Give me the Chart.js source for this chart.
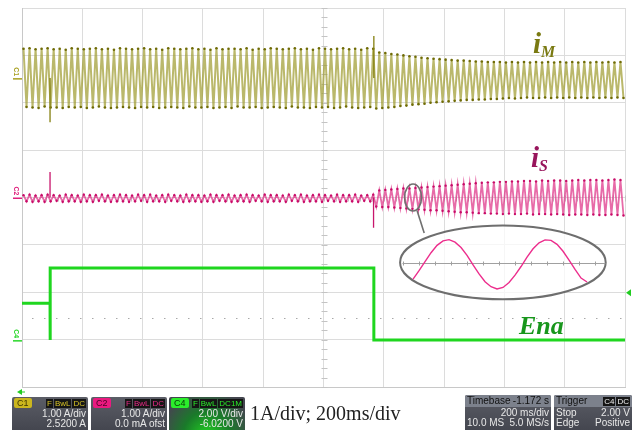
<!DOCTYPE html>
<html>
<head>
<meta charset="utf-8">
<script src="https://cdn.jsdelivr.net/npm/chart.js@4/dist/chart.umd.min.js"></script>
<style>
    body { margin: 0; background: #fff; width: 632px; height: 430px; overflow: hidden; position: relative; font-family: "Liberation Sans", Arial, sans-serif; }
    #scope { position: absolute; left: 0; top: 0; }
    .lbl { position: absolute; font-family: "Liberation Serif", "DejaVu Serif", serif; font-weight: bold; font-style: italic; white-space: nowrap; line-height: 1; }
    .lbl sub { font-size: 0.55em; vertical-align: -0.25em; }
    .box { position: absolute; top: 397px; height: 33px; background: linear-gradient(#5b5d66, #44464f); color: #e8e8e8; font-size: 10px; line-height: 10px; border-radius: 2px 2px 0 0; overflow: hidden; }
    .hd { height: 12px; display: flex; justify-content: space-between; align-items: center; padding: 0 2px; }
    .chip { font-size: 9px; line-height: 10px; padding: 0 3px; border-radius: 2px; }
    .tags b { background: #151515; margin-left: 1px; padding: 0 1px; font-size: 8px; line-height: 9px; font-weight: normal; display: inline-block; }
    .r { text-align: right; padding-right: 2px; height: 10px; }
    .r2 { display: flex; justify-content: space-between; padding: 0 2px; height: 10px; }
    .note { position: absolute; left: 250px; top: 402px; font-family: "Liberation Serif", serif; font-size: 20px; color: #222; white-space: nowrap; }
</style>
</head>
<body>
<canvas id="scope" width="632" height="430"></canvas>

<div class="lbl" style="left:533px;top:29px;font-size:29px;color:#7a7a12">i<sub>M</sub></div>
<div class="lbl" style="left:531px;top:143px;font-size:29px;color:#98155c">i<sub>S</sub></div>
<div class="lbl" style="left:519px;top:313px;font-size:26px;color:#18961c">Ena</div>

<div class="box" style="left:12px;width:76px">
    <div class="hd"><span class="chip" style="background:#cbb61e;color:#3d3600">C1</span><span class="tags"><b style="color:#d6c227">F</b><b style="color:#d6c227">BwL</b><b style="color:#d6c227">DC</b></span></div>
    <div class="r">1.00 A/div</div>
    <div class="r">2.5200 A</div>
</div>
<div class="box" style="left:91px;width:76px">
    <div class="hd"><span class="chip" style="background:#ea1a80;color:#4a0024">C2</span><span class="tags"><b style="color:#ea2a88">F</b><b style="color:#ea2a88">BwL</b><b style="color:#ea2a88">DC</b></span></div>
    <div class="r">1.00 A/div</div>
    <div class="r">0.0 mA ofst</div>
</div>
<div class="box" style="left:169px;width:76px;background:radial-gradient(ellipse at 50% 120%, #22d422 0%, #1a7a2a 45%, #44464f 85%)">
    <div class="hd"><span class="chip" style="background:#2bee2b;color:#063806">C4</span><span class="tags"><b style="color:#2bee2b">F</b><b style="color:#2bee2b">BwL</b><b style="color:#2bee2b">DC1M</b></span></div>
    <div class="r">2.00 V/div</div>
    <div class="r">-6.0200 V</div>
</div>

<div class="note">1A/div; 200ms/div</div>

<div class="box" style="left:465px;width:86px;top:395px;height:35px">
    <div class="r2" style="background:#7c818c;color:#111;height:12px;line-height:12px"><span>Timebase</span><span>-1.172 s</span></div>
    <div class="r" style="line-height:11px;height:11px">200 ms/div</div>
    <div class="r2"><span>10.0 MS</span><span>5.0 MS/s</span></div>
</div>
<div class="box" style="left:554px;width:78px;top:395px;height:35px">
    <div class="r2" style="background:#7c818c;color:#111;height:12px;line-height:12px"><span>Trigger</span><span class="tags"><b style="color:#eee">C4</b><b style="color:#eee">DC</b></span></div>
    <div class="r2" style="line-height:11px;height:11px"><span>Stop</span><span>2.00 V</span></div>
    <div class="r2"><span>Edge</span><span>Positive</span></div>
</div>

<script>
// channel settings (from the scope panel)
const c1Offset = 2.52        // A, 1 A/div
const c2Offset = 0.0         // A, 1 A/div
const c4VoltsPerDiv = 2.0
const c4Offset = -6.02       // V
const halfPeriodMs = 10      // 50 Hz, one sample per half cycle
const triggerVolts = 2.0

// i_M peaks, one per half cycle (A)
const iM = [
    0.62, -0.61, 0.63, -0.62, 0.61, -0.63, 0.62, -0.60, 0.63, -0.62, 0.61, -0.62, 0.62, -0.63, 0.60, -0.61, 0.63, -0.62, 0.62, -0.61,
    0.61, -0.63, 0.62, -0.62, 0.63, -0.60, 0.61, -0.62, 0.62, -0.63, 0.60, -0.62, 0.63, -0.61, 0.62, -0.62, 0.61, -0.63, 0.62, -0.61,
    0.63, -0.62, 0.61, -0.61, 0.62, -0.63, 0.60, -0.62, 0.63, -0.61, 0.62, -0.62, 0.61, -0.63, 0.62, -0.60, 0.63, -0.62, 0.61, -0.62,
    0.62, -0.61, 0.60, -0.63, 0.63, -0.62, 0.61, -0.61, 0.62, -0.63, 0.62, -0.60, 0.61, -0.62, 0.63, -0.62, 0.60, -0.61, 0.62, -0.63,
    0.61, -0.62, 0.63, -0.61, 0.62, -0.62, 0.61, -0.63, 0.62, -0.60, 0.63, -0.62, 0.61, -0.62, 0.62, -0.63, 0.60, -0.61, 0.63, -0.62,
    0.62, -0.61, 0.61, -0.63, 0.62, -0.62, 0.63, -0.60, 0.61, -0.62, 0.62, -0.63, 0.60, -0.62, 0.63, -0.61, 0.62,
    -0.64, 0.54, -0.63, 0.53, -0.62, 0.51, -0.61, 0.50, -0.59, 0.48, -0.58, 0.46, -0.56, 0.45, -0.55, 0.43, -0.54, 0.42, -0.52, 0.41,
    -0.51, 0.40, -0.50, 0.39, -0.49, 0.38, -0.48, 0.37, -0.47, 0.37, -0.46, 0.36, -0.46, 0.35, -0.45, 0.35, -0.45, 0.34, -0.44, 0.34,
    -0.44, 0.34, -0.43, 0.33, -0.42, 0.34, -0.43, 0.33, -0.42, 0.34, -0.41, 0.33, -0.42, 0.34, -0.42, 0.33, -0.41, 0.34, -0.42, 0.33,
    -0.41, 0.34, -0.42, 0.33, -0.41, 0.34, -0.42, 0.33, -0.41, 0.34, -0.42, 0.33, -0.41, 0.34, -0.42, 0.33, -0.41, 0.34, -0.42, 0.33,
    -0.41, 0.34, -0.42
]

// i_S peaks, one per half cycle (A)
const iS = [
    0.05, -0.08, 0.06, -0.09, 0.04, -0.08, 0.05, -0.09, 0.06, -0.08, 0.05, -0.07, 0.04, -0.09, 0.06, -0.08, 0.05, -0.08, 0.04, -0.09,
    0.06, -0.08, 0.05, -0.09, 0.05, -0.07, 0.06, -0.08, 0.04, -0.09, 0.05, -0.08, 0.06, -0.08, 0.05, -0.09, 0.04, -0.08, 0.06, -0.07,
    0.05, -0.09, 0.06, -0.08, 0.04, -0.08, 0.05, -0.09, 0.06, -0.07, 0.05, -0.08, 0.04, -0.09, 0.06, -0.08, 0.05, -0.08, 0.05, -0.09,
    0.04, -0.08, 0.06, -0.09, 0.05, -0.07, 0.05, -0.08, 0.06, -0.09, 0.04, -0.08, 0.05, -0.08, 0.06, -0.09, 0.05, -0.07, 0.04, -0.08,
    0.06, -0.09, 0.05, -0.08, 0.05, -0.08, 0.04, -0.09, 0.06, -0.07, 0.05, -0.08, 0.06, -0.09, 0.04, -0.08, 0.05, -0.08, 0.06, -0.09,
    0.05, -0.07, 0.04, -0.08, 0.06, -0.09, 0.05, -0.08, 0.05, -0.08, 0.06, -0.09, 0.04, -0.07, 0.05, -0.08, 0.06,
    -0.19, 0.15, -0.20, 0.16, -0.20, 0.17, -0.21, 0.18, -0.22, 0.19, -0.23, 0.19, -0.24, 0.20, -0.25, 0.21, -0.26, 0.22, -0.27, 0.23,
    -0.27, 0.24, -0.28, 0.25, -0.29, 0.26, -0.30, 0.27, -0.31, 0.28, -0.31, 0.29, -0.32, 0.30, -0.33, 0.31, -0.33, 0.32, -0.34, 0.32,
    -0.34, 0.33, -0.35, 0.33, -0.34, 0.34, -0.35, 0.34, -0.35, 0.35, -0.34, 0.35, -0.36, 0.34, -0.35, 0.36, -0.35, 0.35, -0.36, 0.36,
    -0.35, 0.36, -0.36, 0.35, -0.37, 0.36, -0.36, 0.37, -0.36, 0.36, -0.37, 0.37, -0.36, 0.37, -0.37, 0.36, -0.37, 0.37, -0.36, 0.38,
    -0.37, 0.37, -0.38
]

// glitches (ms, A)
const iMSpikeT = [93, 1167]
const iMSpikeV = [-0.93, 0.89]
const iSSpikeT = [93, 1166]
const iSSpikeV = [0.54, -0.64]

// Ena logic signal (ms, V)
const enaT = [0, 93, 93, 94, 1167, 1167, 2000]
const enaV = [1.56, 1.56, 0, 3.04, 3.04, 0, 0]

// zoomed i_S in the inset (normalised)
const insetV = [
    -0.60, -0.26, 0.11, 0.47, 0.77, 0.95, 1.00, 0.90, 0.68, 0.36,
    -0.02, -0.39, -0.71, -0.91, -1.00, -0.94, -0.74, -0.44, -0.09, 0.29,
    0.63, 0.87, 0.99, 0.97, 0.81, 0.53, 0.17, -0.21, -0.56, -0.72
]
const insetStartMs = 1297
const insetStepMs = 19.9
const insetCentre = -1.41    // div
const insetGain = 0.52       // div per unit

const c4Div = v => (v + c4Offset) / c4VoltsPerDiv
const traceTime = k => halfPeriodMs / 2 + k * halfPeriodMs

const spikes = (ts, vs, off) => ts.flatMap((t, i) => [{ x: t, y: off }, { x: t, y: off + vs[i] }, { x: t, y: null }])

const scopeDecor = {
    id: 'scopeDecor',
    beforeDatasetsDraw(chart) {
        const { ctx, chartArea: a, scales: { x, y } } = chart
        ctx.save()

        // minor ticks on the centre cross
        ctx.strokeStyle = '#c4c4c4'
        ctx.lineWidth = 1
        const cx = Math.round(x.getPixelForValue(1000)) + 0.5
        const cy = Math.round(y.getPixelForValue(0)) + 0.5
        ctx.beginPath()
        for (let v = -4; v <= 4.001; v += 0.2) {
            const py = Math.round(y.getPixelForValue(v)) + 0.5
            ctx.moveTo(cx - 3, py); ctx.lineTo(cx + 3, py)
        }
        for (let t = 0; t <= 2000; t += 40) {
            const px = Math.round(x.getPixelForValue(t)) + 0.5
            ctx.moveTo(px, cy - 3); ctx.lineTo(px, cy + 3)
        }
        ctx.stroke()

        // dotted level line
        ctx.strokeStyle = '#a8a8a8'
        ctx.setLineDash([1.5, 10.5])
        const dy = Math.round(y.getPixelForValue(-2.54)) + 0.5
        ctx.beginPath(); ctx.moveTo(a.left + 10, dy); ctx.lineTo(a.right, dy); ctx.stroke()
        ctx.setLineDash([])

        // inset ellipse
        const ex = x.getPixelForValue(1595), ey = y.getPixelForValue(-1.37)
        const rx = x.getPixelForValue(1595 + 341) - ex, ry = ey - y.getPixelForValue(-1.37 + 0.78)
        ctx.beginPath()
        ctx.ellipse(ex, ey, rx, ry, 0, 0, Math.PI * 2)
        ctx.fillStyle = 'rgba(255,255,255,0.75)'
        ctx.fill()
        ctx.lineWidth = 2
        ctx.strokeStyle = '#6e6e6e'
        ctx.stroke()

        // inset axis
        const ax0 = x.getPixelForValue(1262), ax1 = x.getPixelForValue(1935)
        const ay = Math.round(y.getPixelForValue(-1.38)) + 0.5
        ctx.strokeStyle = '#a0a0a0'
        ctx.lineWidth = 1
        ctx.beginPath()
        ctx.moveTo(ax0, ay); ctx.lineTo(ax1, ay)
        for (let px = ax0 + 1; px <= ax1; px += 16) { ctx.moveTo(Math.round(px) + 0.5, ay - 2); ctx.lineTo(Math.round(px) + 0.5, ay + 2) }
        ctx.stroke()
        ctx.restore()
    },
    afterDatasetsDraw(chart) {
        const { ctx, chartArea: a, scales: { x, y } } = chart
        ctx.save()
        // small circle on i_S and the leader line
        const sx = x.getPixelForValue(1297), sy = y.getPixelForValue(0.0)
        ctx.strokeStyle = '#707070'
        ctx.lineWidth = 1.6
        ctx.beginPath(); ctx.ellipse(sx, sy, 8.5, 13.5, 0, 0, Math.PI * 2); ctx.stroke()
        ctx.beginPath()
        ctx.moveTo(sx + 4, sy + 13)
        ctx.lineTo(x.getPixelForValue(1334), y.getPixelForValue(-0.75))
        ctx.stroke()

        // channel markers on the left edge
        const marks = [[c1Offset, 'C1', '#a8a020'], [c2Offset, 'C2', '#e0207e'], [c4Div(0), 'C4', '#2ad82a']]
        ctx.font = 'bold 7px "Liberation Sans", Arial'
        for (const [v, name, col] of marks) {
            const py = y.getPixelForValue(v)
            ctx.fillStyle = col
            ctx.fillRect(a.left - 9, py, 9, 1.5)
            ctx.save()
            ctx.translate(a.left - 10, py - 2)
            ctx.rotate(Math.PI / 2)
            ctx.textAlign = 'right'
            ctx.textBaseline = 'bottom'
            ctx.fillText(name, 0, 0)
            ctx.restore()
        }

        // trigger level arrow on the right, time marker bottom left
        ctx.fillStyle = '#22cc22'
        const ty = y.getPixelForValue(c4Div(triggerVolts))
        ctx.beginPath(); ctx.moveTo(a.right + 1, ty); ctx.lineTo(a.right + 6, ty - 3.5); ctx.lineTo(a.right + 6, ty + 3.5); ctx.fill()
        ctx.beginPath(); ctx.moveTo(a.left - 5, a.bottom + 5); ctx.lineTo(a.left, a.bottom + 2); ctx.lineTo(a.left, a.bottom + 8); ctx.fill()
        ctx.fillRect(a.left - 1, a.bottom + 4.5, 4, 1)
        ctx.restore()
    }
}

const ctx = document.getElementById('scope').getContext('2d')
new Chart(ctx, {
    type: 'line',
    data: {
        datasets: [
            {
                data: insetV.map((v, i) => ({ x: insetStartMs + i * insetStepMs, y: insetCentre + v * insetGain })),
                borderColor: '#ec2d8c', borderWidth: 1.4, pointRadius: 0
            },
            {
                data: enaT.map((t, i) => ({ x: t, y: c4Div(enaV[i]) })),
                borderColor: '#1fd61f', borderWidth: 3, pointRadius: 0
            },
            {
                data: spikes(iSSpikeT, iSSpikeV, c2Offset),
                borderColor: '#c8156c', borderWidth: 1.3, pointRadius: 0, spanGaps: false
            },
            {
                data: iS.map((v, k) => ({ x: traceTime(k), y: c2Offset + v })),
                borderColor: 'rgba(222,50,135,0.72)', borderWidth: 1.8,
                pointRadius: 1.2, pointBorderWidth: 0, pointBackgroundColor: '#c80c68'
            },
            {
                data: spikes(iMSpikeT, iMSpikeV, c1Offset),
                borderColor: '#858010', borderWidth: 1.3, pointRadius: 0, spanGaps: false
            },
            {
                data: iM.map((v, k) => ({ x: traceTime(k), y: c1Offset + v })),
                borderColor: 'rgba(160,156,50,0.72)', borderWidth: 2,
                pointRadius: 1.3, pointBorderWidth: 0, pointBackgroundColor: '#6f6b06'
            }
        ]
    },
    options: {
        responsive: false,
        animation: false,
        events: [],
        layout: { padding: { left: 22, top: 8, right: 7, bottom: 43 } },
        plugins: { legend: { display: false }, tooltip: { enabled: false } },
        elements: { line: { tension: 0 } },
        scales: {
            x: {
                type: 'linear', min: 0, max: 2000,
                ticks: { display: false, stepSize: 200 },
                grid: { color: '#dcdcdc', drawTicks: false },
                border: { color: '#c8c8c8' }
            },
            y: {
                type: 'linear', min: -4, max: 4,
                ticks: { display: false, stepSize: 1 },
                grid: { color: '#dcdcdc', drawTicks: false },
                border: { color: '#c8c8c8' }
            }
        }
    },
    plugins: [scopeDecor]
})
</script>
</body>
</html>
